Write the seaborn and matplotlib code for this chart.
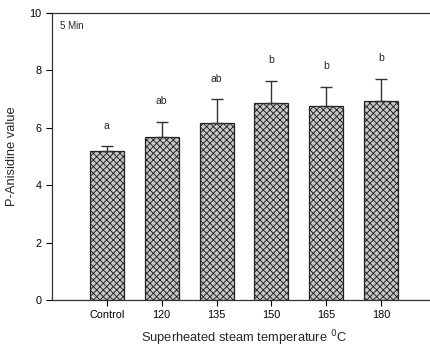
import matplotlib
matplotlib.use("Agg")
import matplotlib.pyplot as plt
import seaborn as sns
import pandas as pd

categories = ["Control", "120", "135", "150", "165", "180"]
values = [5.20, 5.68, 6.18, 6.85, 6.75, 6.92]
errors = [0.16, 0.53, 0.81, 0.79, 0.67, 0.78]
letters = ["a", "ab", "ab", "b", "b", "b"]

sns.set_style("white")
plt.rcParams['font.family'] = ['Liberation Sans', 'DejaVu Sans']
plt.rcParams['hatch.color'] = '#303030'
plt.rcParams['hatch.linewidth'] = 0.65

df = pd.DataFrame({"cat": categories, "val": values})

fig = plt.figure(figsize=(4.31, 3.49), dpi=100)
ax = fig.add_axes([52/431, 49/349, (436-52)/431, 287/349])

sns.barplot(data=df, x="cat", y="val", color="#c4c4c4", width=0.62,
            edgecolor="#222222", linewidth=0.9, saturation=1, ax=ax, errorbar=None)
for p in ax.patches:
    p.set_hatch("xxxxx")
    p.set_facecolor("#c6c6c6")

xs = range(len(categories))
ax.errorbar(list(xs), values, yerr=[[0]*len(errors), errors], fmt="none",
            ecolor="#333333", elinewidth=1.0, capsize=4, capthick=1.0, zorder=1)

for x, v, e, l in zip(xs, values, errors, letters):
    ax.text(x, v + e + 0.72, l, ha="center", va="center", fontsize=7.5)

ax.set_xlim(-1, 6)
ax.set_ylim(0, 10)
ax.set_yticks([0, 2, 4, 6, 8, 10])
ax.set_xlabel("Superheated steam temperature $^{0}$C", fontsize=9.3, labelpad=6)
ax.set_ylabel("P-Anisidine value", fontsize=9.3, labelpad=8)
ax.tick_params(axis="both", labelsize=7.8, direction="out", length=4, width=0.8,
               left=True, bottom=True, colors="black")
for s in ["left", "bottom", "top"]:
    ax.spines[s].set_color("#333333")
    ax.spines[s].set_linewidth(0.9)
ax.spines["right"].set_visible(False)
ax.text(0.02, 0.955, "5 Min", transform=ax.transAxes, fontsize=7, va="center", ha="left")

fig.savefig("out.png", dpi=100)
